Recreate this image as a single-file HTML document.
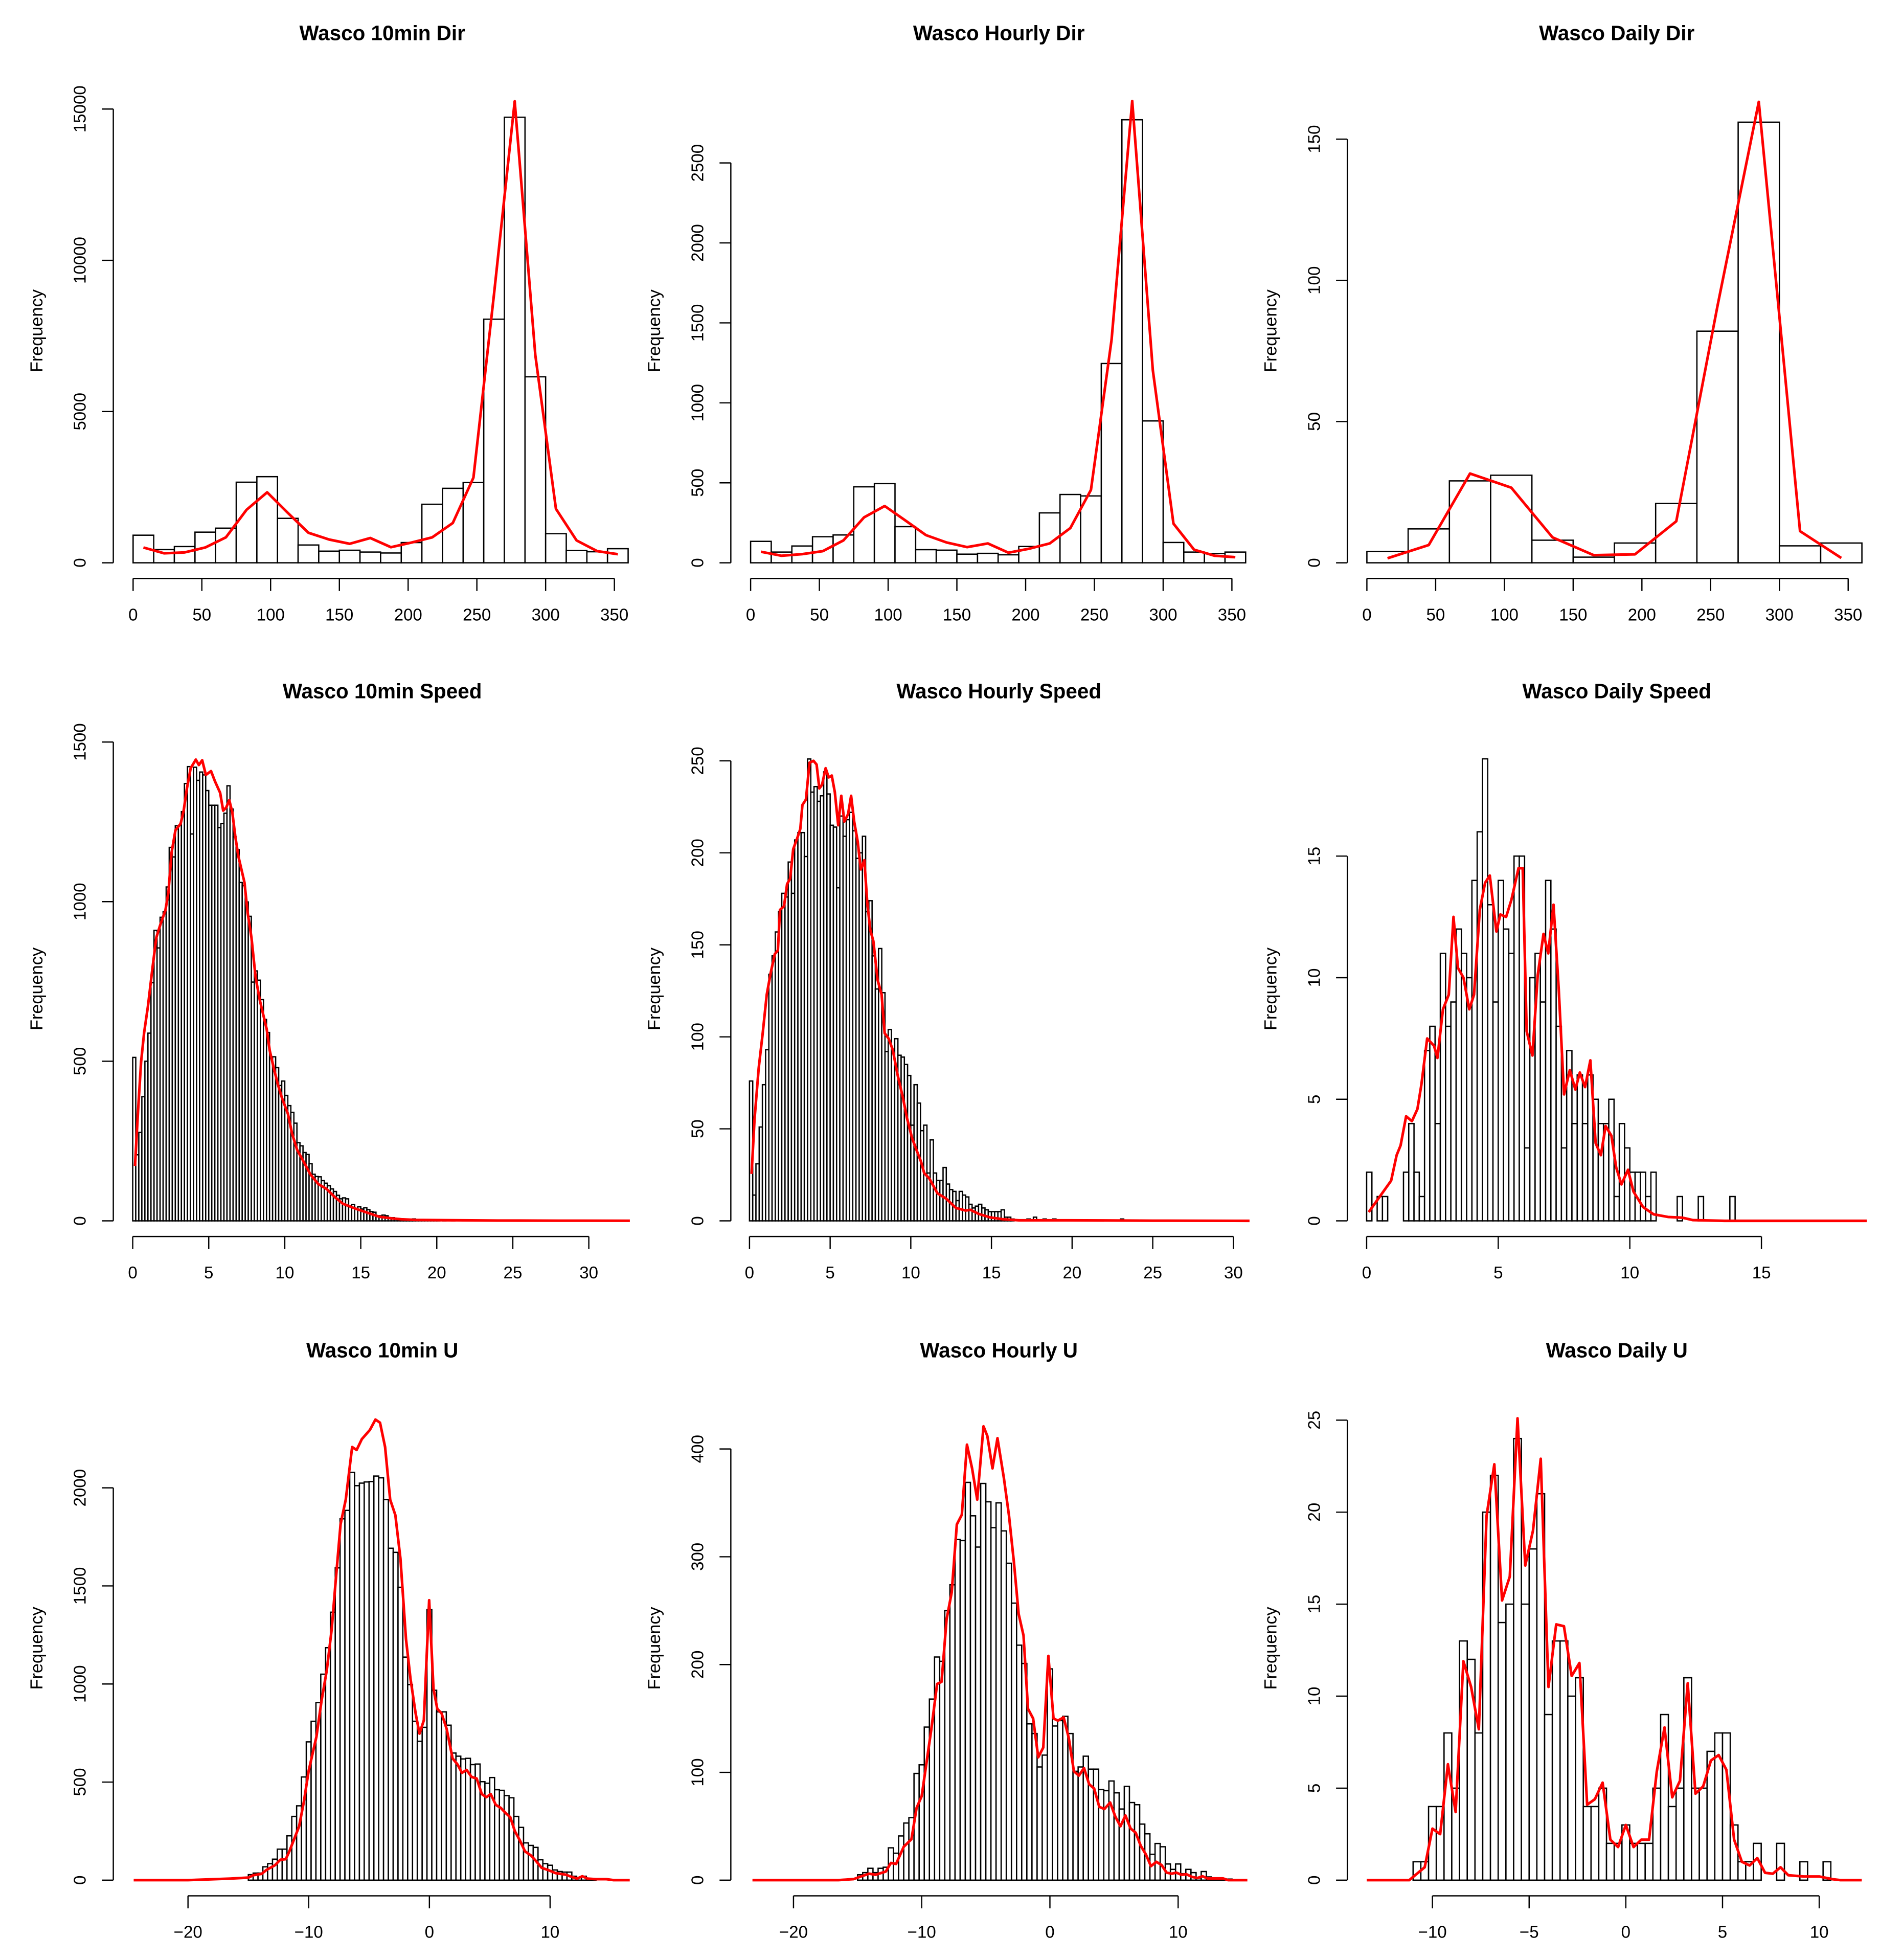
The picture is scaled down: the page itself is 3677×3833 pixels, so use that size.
<!DOCTYPE html>
<html><head><meta charset="utf-8"><title>Wasco histograms</title>
<style>html,body{margin:0;padding:0;background:#fff}svg{display:block}</style></head>
<body>
<svg id="chart" xmlns="http://www.w3.org/2000/svg" width="3677" height="3833" viewBox="0 0 1500 1563.7" preserveAspectRatio="none" font-family="'Liberation Sans', Arial, sans-serif"></svg>
<script>
// ---------- data ----------
const dir10Counts=[912,436,537,1013,1145,2664,2847,1469,588,385,415,355,324,669,1935,2462,2654,8053,14729,6149,962,405,365,466];
const dir10LineY=[506,314,344,506,841,1752,2330,1651,993,770,628,820,516,669,841,1317,2816,8894,15256,6868,1783,739,385,284];
const dirHCounts=[134,67,105,163,174,475,495,226,82,79,54,59,50,102,312,427,418,1246,2770,887,127,67,58,67];
const dirHLineY=[69,44,54,73,140,284,355,265,173,127,98,121,63,88,121,217,456,1395,2887,1204,245,82,44,35];
const dirDCounts=[4,12,29,31,8,2,7,21,82,156,6,7];
const dirDLineY=[1.6,6.3,31.6,26.6,9.0,2.7,3.0,14.7,91,163.2,11.2,1.7];

const spd10Counts=[512,207,277,389,500,588,746,910,855,951,968,1046,1170,1140,1238,1238,1282,1370,1423,1212,1421,1380,1406,1397,1348,1302,1302,1302,1232,1245,1277,1363,1290,1203,1163,1060,1050,999,954,748,783,754,693,631,590,514,514,480,424,438,393,361,340,306,245,235,214,208,179,146,139,138,126,118,110,100,92,80,69,72,69,47,51,39,44,37,41,35,29,27,16,16,18,16,8,10,6,6,6,3,3,5,6,2,2,1,1,2,1,1,1,0,1,0,0,1,0,0,0,1,0,0,0,0,0,1,0,0,0,1];
const spd10LineX=[0.15,0.35,0.55,0.75,1.0,1.28,1.55,1.81,2.15,2.35,2.55,2.81,3.15,3.35,3.55,3.81,4.15,4.35,4.57,4.81,5.15,5.41,5.75,5.95,6.15,6.35,6.55,6.75,6.95,7.15,7.35,7.55,7.81,8.08,8.35,8.61,8.81,9.01,9.28,9.55,9.81,10.21,10.48,10.81,11.28,11.68,12.21,12.75,13.28,13.81,14.61,15.41,16.21,17.01,17.68,18.6,20.6,24,28,32.7];
const spd10LineY=[172,345,498,590,672,785,887,927,973,1030,1152,1224,1244,1285,1351,1418,1445,1428,1443,1397,1409,1377,1341,1285,1295,1318,1280,1203,1142,1101,1060,968,887,764,693,641,601,534,478,427,386,335,274,223,182,146,115,100,75,54,39,26,13,8,5,3,2,1,0.5,0.3];

const spdHCounts=[76,14,31,51,74,93,134,144,157,168,178,176,195,178,207,211,211,198,251,233,236,228,231,244,232,215,214,181,220,209,218,222,212,197,200,209,168,174,144,126,148,124,92,104,91,99,90,89,85,79,52,74,64,49,52,26,44,26,22,22,29,20,17,16,11,16,14,13,9,7,8,9,7,6,5,5,5,5,6,2,2,1,0,0,0,0,1,0,2,0,0,1,0,0,1,0,0,0,0,0,0,0,0,0,0,0,0,0,0,0,0,0,0,0,0,1];
const spdHLineX=[0.13,0.31,0.57,0.82,1.07,1.32,1.57,1.76,1.89,2.14,2.33,2.52,2.71,2.96,3.15,3.28,3.5,3.72,3.97,4.16,4.33,4.5,4.72,4.91,5.1,5.29,5.5,5.69,5.88,6.11,6.3,6.49,6.71,6.9,7.12,7.3,7.49,7.68,7.94,8.19,8.38,8.63,8.88,9.19,9.51,9.76,10.08,10.33,10.64,10.83,11.15,11.65,12.2,12.8,13.4,13.7,14.2,14.9,15.7,16.7,19.6,25,31];
const spdHLineY=[25.5,55,83,102,123,135,145,147,169,171,183,186,202,208,213,226,229,249,250,248,235,237,246,241,242,233,215,231,217,221,231,217,206,191,196,173,158,152,131,123,102,99,93,79,67,56,45,39,32,26,23,15,12,7,5.6,6,3.8,1.9,0.9,0.3,0.3,0.1,0];

const spdDCounts=[2,0,1,1,0,0,0,2,4,2,1,7,8,4,11,8,9,12,11,10,14,16,19,13,9,14,12,11,15,15,3,10,11,9,14,12,8,3,7,4,6,4,6,5,4,4,5,1,4,3,2,2,2,1,2,0,0,0,0,1,0,0,0,1,0,0,0,0,0,1];
const spdDLineX=[0.08,0.5,0.93,1.14,1.29,1.5,1.72,1.93,2.08,2.3,2.56,2.69,2.9,3.12,3.3,3.47,3.68,3.9,4.08,4.3,4.5,4.68,4.93,5.08,5.3,5.5,5.77,5.93,6.08,6.3,6.5,6.72,6.9,7.1,7.3,7.5,7.72,7.93,8.1,8.3,8.5,8.7,8.9,9.08,9.3,9.48,9.68,9.93,10.14,10.5,10.9,11.45,12,12.4,13.6,16,19];
const spdDLineY=[0.36,1.0,1.65,2.7,3.1,4.3,4.1,4.6,5.6,7.5,7.2,6.7,8.7,9.3,12.5,10.4,10.0,8.7,9.3,12.8,13.9,14.2,11.9,12.6,12.5,13.2,14.5,14.5,7.8,6.8,10.1,11.8,11.0,13.0,9.5,5.2,6.2,5.4,6.1,5.5,6.6,3.2,2.7,3.9,3.5,2.2,1.5,2.1,1.2,0.57,0.27,0.16,0.13,0.03,0,0,0];

const u10Counts=[28,36,36,68,84,107,158,158,226,325,379,526,705,810,905,1050,1185,1366,1592,1842,1885,2079,2011,2024,2030,2032,2060,2051,1940,1692,1671,1493,1137,997,810,708,779,1379,968,858,858,790,648,632,618,621,589,592,502,494,523,461,458,431,420,325,269,190,177,167,104,84,76,52,44,41,41,20,13,20,5,3];
const u10LineX=[-24.5,-20,-16.5,-15.0,-14.6,-13.9,-13.5,-12.8,-12.35,-11.9,-11.6,-11.1,-10.8,-10.4,-10.0,-9.36,-8.94,-8.5,-8.1,-7.78,-7.36,-6.93,-6.4,-6.03,-5.6,-4.93,-4.47,-4.09,-3.67,-3.25,-2.82,-2.4,-1.94,-1.56,-1.14,-0.82,-0.46,-0.02,0.34,0.65,1.01,1.43,1.92,2.34,2.7,3.08,3.5,3.92,4.34,4.72,5.08,5.5,5.92,6.34,6.7,7.08,7.5,7.92,8.41,8.8,9.3,9.82,10.45,11.3,11.82,12.24,12.67,13.1,13.8,14.67,15.26,16.6];
const u10LineY=[0,0,8,13,25,32,52,76,104,107,147,226,273,400,558,731,913,1071,1276,1513,1814,1940,2208,2193,2248,2295,2348,2332,2208,1940,1861,1640,1229,1024,850,747,815,1427,976,874,850,771,621,589,547,562,526,518,439,423,439,384,368,341,321,250,202,147,126,100,63,52,36,28,16,8,20,8,5,5,0,0];

const uHCounts=[5,7,11,7,11,12,30,25,41,53,58,99,107,142,168,207,203,250,274,316,315,369,338,309,368,351,327,350,324,294,257,218,201,145,136,105,116,196,143,148,152,136,101,105,115,103,103,84,83,92,81,66,87,72,70,52,43,24,34,31,15,10,15,6,10,7,2,8,3,2,1,1,1];
const uHLineX=[-23.2,-16.5,-15.3,-14.7,-14.1,-13.6,-12.8,-12.4,-12.0,-11.4,-10.8,-10.4,-10.0,-9.25,-8.8,-8.45,-8.06,-7.66,-7.26,-6.87,-6.47,-6.07,-5.67,-5.18,-4.88,-4.48,-4.09,-3.59,-3.19,-2.8,-2.44,-2.06,-1.71,-1.31,-0.91,-0.52,-0.12,0.28,0.62,1.07,1.47,1.87,2.26,2.66,3.06,3.45,3.85,4.25,4.7,5.1,5.5,5.89,6.29,6.69,7.08,7.48,7.88,8.31,8.71,9.1,9.5,9.86,10.26,10.65,11.09,11.5,11.9,12.3,13.1,13.5,13.9,15.4];
const uHLineY=[0,0,1,3.6,6,5,8,16,15,31,38,67,78,140,182,184,242,267,330,339,404,382,353,421,412,382,410,373,338,294,247,227,159,150,114,123,208,150,148,151,132,101,97,104,89,85,68,66,72,59,50,60,48,44,32,24,13,17,14,7,6,7,5,5.5,3,2,3.6,1.6,1.6,1.6,0,0];

const uDCounts=[1,1,4,4,8,5,13,12,8,20,22,14,15,24,15,18,21,9,13,13,10,11,4,4,5,2,2,3,2,2,2,5,9,4,5,11,5,5,7,8,8,3,1,1,2,0,0,2,0,0,1,0,0,1];
const uDLineX=[-13.4,-11.2,-10.4,-10,-9.6,-9.2,-8.8,-8.4,-8.0,-7.6,-7.2,-6.8,-6.4,-6.0,-5.6,-5.2,-4.8,-4.4,-4.0,-3.6,-3.2,-2.8,-2.4,-2.0,-1.6,-1.2,-0.8,-0.4,0,0.4,0.8,1.2,1.6,2.0,2.4,2.8,3.2,3.6,4.0,4.4,4.8,5.2,5.6,6.0,6.4,6.8,7.2,7.6,8.0,8.4,9.2,10,10.7,11.1,12.2];
const uDLineY=[0,0,0.7,2.8,2.5,6.3,3.7,11.9,10.5,8.2,19.8,22.6,15.2,16.5,25.1,17.1,19,22.9,10.5,13.9,13.8,11.1,11.8,4.1,4.4,5.3,2.2,1.8,3.0,1.8,2.2,2.2,5.9,8.3,4.5,5.4,10.7,4.7,5.1,6.5,6.8,6.0,2.2,1.0,0.8,1.2,0.4,0.35,0.7,0.27,0.2,0.2,0.05,0,0];

const dirXTicks=[0,50,100,150,200,250,300,350];
// ---------- layout ----------
const svg=document.getElementById('chart');
const NS='http://www.w3.org/2000/svg';
function mk(tag,attrs,parent){const e=document.createElementNS(NS,tag);for(const k in attrs)e.setAttribute(k,attrs[k]);(parent||svg).appendChild(e);return e;}
const colX0=[90.4,583.1,1075.0];
const colTitle=[305,797,1290];
const rowY0=[449,974,1500];
const panels=[
 {id:'10min-dir',title:'Wasco 10min Dir',r:0,c:0,ox:106.2,sx:384/350,sy:362/15000,yTicks:[0,5000,10000,15000],xTicks:dirXTicks,bs:0,bw:15,counts:dir10Counts,lx:null,ly:dir10LineY},
 {id:'hourly-dir',title:'Wasco Hourly Dir',r:0,c:1,ox:598.9,sx:384/350,sy:319/2500,yTicks:[0,500,1000,1500,2000,2500],xTicks:dirXTicks,bs:0,bw:15,counts:dirHCounts,lx:null,ly:dirHLineY},
 {id:'daily-dir',title:'Wasco Daily Dir',r:0,c:2,ox:1090.6,sx:384/350,sy:338/150,yTicks:[0,50,100,150],xTicks:dirXTicks,bs:0,bw:30,counts:dirDCounts,lx:null,ly:dirDLineY},
 {id:'10min-speed',title:'Wasco 10min Speed',r:1,c:0,ox:105.9,sx:12.13,sy:382/1500,yTicks:[0,500,1000,1500],xTicks:[0,5,10,15,20,25,30],bs:0,bw:0.2,counts:spd10Counts,lx:spd10LineX,ly:spd10LineY},
 {id:'hourly-speed',title:'Wasco Hourly Speed',r:1,c:1,ox:598.0,sx:12.87,sy:367/250,yTicks:[0,50,100,150,200,250],xTicks:[0,5,10,15,20,25,30],bs:0,bw:0.2,counts:spdHCounts,lx:spdHLineX,ly:spdHLineY},
 {id:'daily-speed',title:'Wasco Daily Speed',r:1,c:2,ox:1090.4,sx:21.0,sy:19.4,yTicks:[0,5,10,15],xTicks:[0,5,10,15],bs:0,bw:0.2,counts:spdDCounts,lx:spdDLineX,ly:spdDLineY},
 {id:'10min-u',title:'Wasco 10min U',r:2,c:0,ox:342.6,sx:9.63,sy:313/2000,yTicks:[0,500,1000,1500,2000],xTicks:[-20,-10,0,10],bs:-15,bw:0.4,counts:u10Counts,lx:u10LineX,ly:u10LineY},
 {id:'hourly-u',title:'Wasco Hourly U',r:2,c:1,ox:837.7,sx:10.23,sy:344/400,yTicks:[0,100,200,300,400],xTicks:[-20,-10,0,10],bs:-15,bw:0.4,counts:uHCounts,lx:uHLineX,ly:uHLineY},
 {id:'daily-u',title:'Wasco Daily U',r:2,c:2,ox:1297.2,sx:15.43,sy:367/25,yTicks:[0,5,10,15,20,25],xTicks:[-10,-5,0,5,10],bs:-11,bw:0.4,counts:uDCounts,lx:uDLineX,ly:uDLineY}
];
panels.forEach(p=>{
 const y0=rowY0[p.r], ax=colX0[p.c];
 const X=v=>p.ox+v*p.sx, Y=v=>y0-v*p.sy;
 const g=mk('g',{});
 
 
 const t=mk('text',{x:colTitle[p.c],y:y0-rowY0[0]+32,'text-anchor':'middle','font-size':'16.5','font-weight':'bold',fill:'#000'},g);
 t.textContent=p.title;
 
 
 const yl=mk('text',{transform:`translate(${ax-56.5},${y0-185}) rotate(-90)`,'text-anchor':'middle','font-size':'14',fill:'#000'},g);
 yl.textContent='Frequency';
 
 
 // bars
 const bg=mk('g',{fill:'#fff',stroke:'#000','stroke-width':'1.05'},g);
 
 
 p.counts.forEach((c,i)=>{
  const x1=X(p.bs+i*p.bw), x2=X(p.bs+(i+1)*p.bw);
  const r=mk('rect',{x:x1,y:Y(c),width:x2-x1,height:y0-Y(c)},bg);
  
  
 });
 // density line
 const lx=p.lx?p.lx:p.ly.map((v,i)=>p.bs+(i+0.5)*p.bw);
 const pts=p.ly.map((v,i)=>X(lx[i]).toFixed(2)+','+Y(v).toFixed(2)).join(' ');
 const pl=mk('polyline',{points:pts,fill:'none',stroke:'#ff0000','stroke-width':'2.1','stroke-linejoin':'round'},g);
 
 
 // x axis
 const xa=mk('g',{stroke:'#000','stroke-width':'1'},g);
 
 
 const xt=p.xTicks;
 mk('line',{x1:X(xt[0]),x2:X(xt[xt.length-1]),y1:y0+12.5,y2:y0+12.5},xa);
 xt.forEach(v=>{
  mk('line',{x1:X(v),x2:X(v),y1:y0+12.5,y2:y0+22.5},xa);
  const tl=mk('text',{x:X(v),y:y0+46,'text-anchor':'middle','font-size':'13.5',fill:'#000',stroke:'none'},xa);
  tl.textContent=v<0?'\u2212'+Math.abs(v):String(v);
  
  
 });
 // y axis
 const ya=mk('g',{stroke:'#000','stroke-width':'1'},g);
 
 
 const yt=p.yTicks;
 mk('line',{x1:ax,x2:ax,y1:Y(yt[0]),y2:Y(yt[yt.length-1])},ya);
 yt.forEach(v=>{
  mk('line',{x1:ax-9,x2:ax,y1:Y(v),y2:Y(v)},ya);
  const tl=mk('text',{transform:`translate(${ax-22},${Y(v)}) rotate(-90)`,'text-anchor':'middle','font-size':'13.5',fill:'#000',stroke:'none'},ya);
  tl.textContent=String(v);
  
  
 });
});
</script>
</body></html>
